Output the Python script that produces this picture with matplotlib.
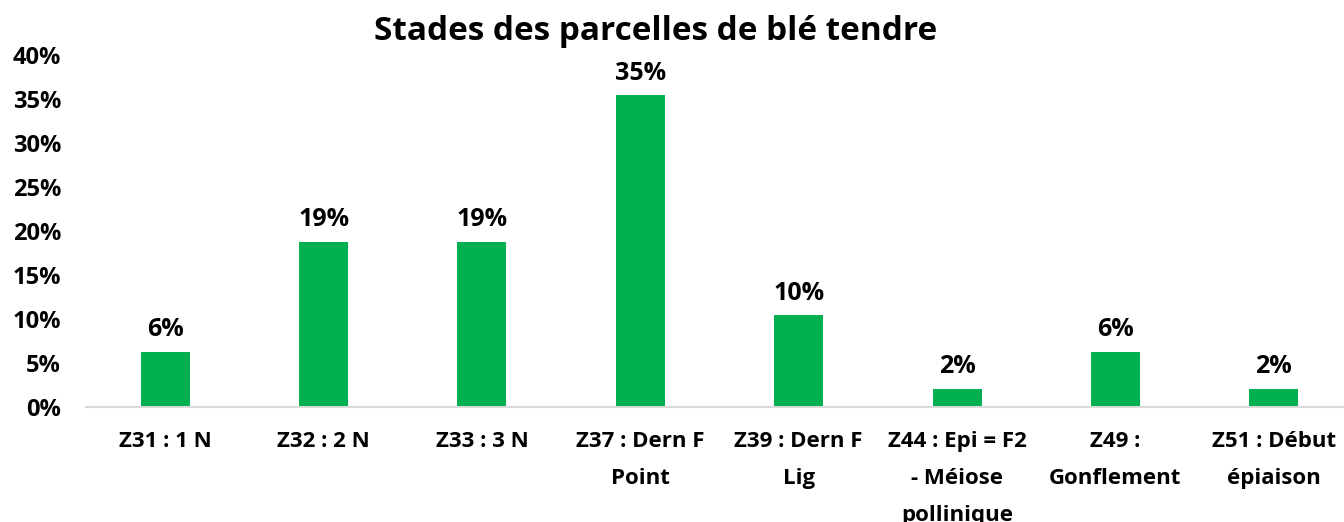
import matplotlib.pyplot as plt
from matplotlib.ticker import PercentFormatter

categories = ['Z31 : 1 N', 'Z32 : 2 N', 'Z33 : 3 N', 'Z37 : Dern F\nPoint',
              'Z39 : Dern F\nLig', 'Z44 : Epi = F2\n- Méiose\npollinique',
              'Z49 :\nGonflement', 'Z51 : Début\népiaison']
values = [6.25, 18.75, 18.75, 35.4, 10.4, 2.1, 6.25, 2.1]
labels = ['6%', '19%', '19%', '35%', '10%', '2%', '6%', '2%']

plt.rcParams['font.family'] = ['Open Sans', 'DejaVu Sans']
plt.rcParams['font.weight'] = 'bold'

fig = plt.figure(figsize=(13.44, 5.22), dpi=100)
W, H = 1344, 522
ax = fig.add_axes([86 / W, (H - 407) / H, (1353 - 86) / W, (407 - 55) / H])

x = range(len(categories))
ax.bar(x, values, width=0.31, color='#00B050')
for xi, v, lab in zip(x, values, labels):
    ax.annotate(lab, (xi, v), xytext=(0, 7), textcoords='offset points',
                ha='center', va='bottom', fontsize=18, fontweight='bold')

ax.set_xlim(-0.5, len(categories) - 0.5)
ax.set_ylim(0, 40)
ax.set_yticks(range(0, 41, 5))
ax.yaxis.set_major_formatter(PercentFormatter(decimals=0))
ax.set_xticks(list(x))
ax.set_xticklabels(categories, fontsize=16, fontweight='bold', linespacing=2.0, va='top')
ax.tick_params(axis='y', length=0, labelsize=17, pad=18)
ax.tick_params(axis='x', length=0, pad=17)
for s in ['top', 'right', 'left']:
    ax.spines[s].set_visible(False)
ax.spines['bottom'].set_color('#D9D9D9')
ax.spines['bottom'].set_linewidth(1.5)

fig.text(656 / W, (H - 32) / H, 'Stades des parcelles de blé tendre',
         ha='center', va='center', fontsize=24, fontweight='bold')

fig.savefig('out.png', dpi=100)
